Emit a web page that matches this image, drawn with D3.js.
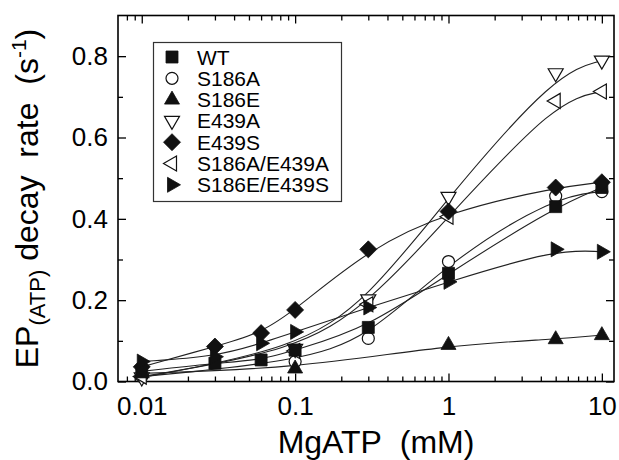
<!DOCTYPE html>
<html>
<head>
<meta charset="utf-8">
<script src="https://cdn.jsdelivr.net/npm/d3@7"></script>
<style>
  body { margin: 0; background: #fff; }
  text { font-family: "Liberation Sans", Arial, sans-serif; fill: #000; }
</style>
</head>
<body>
<div id="chart"></div>
<script>
// ---- data ----
const wtX    = [0.01, 0.03, 0.06, 0.1, 0.3, 1, 5, 10];
const wtY    = [0.025, 0.045, 0.053, 0.077, 0.133, 0.266, 0.430, 0.477];
const s186aX = [0.01, 0.1, 0.3, 1, 5, 10];
const s186aY = [0.012, 0.049, 0.106, 0.295, 0.456, 0.467];
const s186eX = [0.01, 0.1, 1, 5, 10];
const s186eY = [0.020, 0.032, 0.090, 0.104, 0.114];
const e439aX = [0.01, 0.1, 0.3, 1, 5, 10];
const e439aY = [0.010, 0.080, 0.202, 0.454, 0.758, 0.789];
const e439sX = [0.01, 0.03, 0.06, 0.1, 0.3, 1, 5, 10];
const e439sY = [0.036, 0.086, 0.119, 0.176, 0.325, 0.418, 0.477, 0.490];
const dblAX  = [0.01, 0.1, 0.3, 1, 5, 10];
const dblAY  = [0.012, 0.075, 0.190, 0.405, 0.690, 0.713];
const dblEX  = [0.01, 0.03, 0.06, 0.1, 0.3, 1, 5, 10];
const dblEY  = [0.049, 0.061, 0.094, 0.122, 0.182, 0.245, 0.325, 0.319];

const seriesNames = ["WT", "S186A", "S186E", "E439A", "E439S", "S186A/E439A", "S186E/E439S"];
const markers     = ["square", "circle", "up", "down", "diamond", "left", "right"];

const xMajor  = [0.01, 0.1, 1, 10];
const xLabels = ["0.01", "0.1", "1", "10"];
const xMinor  = [0.008, 0.009, 0.02, 0.03, 0.04, 0.05, 0.06, 0.07, 0.08, 0.09,
                 0.2, 0.3, 0.4, 0.5, 0.6, 0.7, 0.8, 0.9, 2, 3, 4, 5, 6, 7, 8, 9];
const yMajor  = [0, 0.2, 0.4, 0.6, 0.8];
const yLabels = ["0.0", "0.2", "0.4", "0.6", "0.8"];
const yMinor  = [0.1, 0.3, 0.5, 0.7];

const series = [
  [wtX, wtY], [s186aX, s186aY], [s186eX, s186eY], [e439aX, e439aY],
  [e439sX, e439sY], [dblAX, dblAY], [dblEX, dblEY]
].map(([xs, ys], i) => ({
  name: seriesNames[i],
  marker: markers[i],
  points: xs.map((v, j) => ({ x: v, y: ys[j] }))
}));

// ---- layout ----
const margin = { top: 15.5, right: 5, bottom: 78.5, left: 118 };
const W = 619, H = 460;
const width  = W - margin.left - margin.right;
const height = H - margin.top - margin.bottom;

const svg = d3.select("#chart").append("svg")
  .attr("width", W).attr("height", H);
const g = svg.append("g")
  .attr("transform", `translate(${margin.left},${margin.top})`);

const x = d3.scaleLog().domain([0.007, 12]).range([0, width]);
const y = d3.scaleLinear().domain([0, 0.9]).range([height, 0]);

// ---- axes (inward ticks on all four sides) ----
function styleAxis(sel, size) {
  sel.select(".domain").remove();
  sel.selectAll("line").attr("stroke", "#000").attr("stroke-width", 1.3);
  sel.selectAll("text").attr("font-size", size).attr("font-family", null);
}

g.append("g").attr("transform", `translate(0,${height})`)
  .call(d3.axisBottom(x).tickValues(xMajor)
    .tickFormat(d => xLabels[xMajor.indexOf(d)])
    .tickSize(-8).tickSizeOuter(0).tickPadding(15))
  .call(s => styleAxis(s, "26px"));
g.append("g").attr("transform", `translate(0,${height})`)
  .call(d3.axisBottom(x).tickValues(xMinor).tickFormat("").tickSize(-5).tickSizeOuter(0))
  .call(s => styleAxis(s));
g.append("g")
  .call(d3.axisTop(x).tickValues(xMajor).tickFormat("").tickSize(-8).tickSizeOuter(0))
  .call(s => styleAxis(s));
g.append("g")
  .call(d3.axisTop(x).tickValues(xMinor).tickFormat("").tickSize(-5).tickSizeOuter(0))
  .call(s => styleAxis(s));

g.append("g")
  .call(d3.axisLeft(y).tickValues(yMajor)
    .tickFormat(d => yLabels[yMajor.indexOf(d)])
    .tickSize(-8).tickSizeOuter(0).tickPadding(10))
  .call(s => styleAxis(s, "26px"));
g.append("g")
  .call(d3.axisLeft(y).tickValues(yMinor).tickFormat("").tickSize(-5).tickSizeOuter(0))
  .call(s => styleAxis(s));
g.append("g").attr("transform", `translate(${width},0)`)
  .call(d3.axisRight(y).tickValues(yMajor).tickFormat("").tickSize(-8).tickSizeOuter(0))
  .call(s => styleAxis(s));
g.append("g").attr("transform", `translate(${width},0)`)
  .call(d3.axisRight(y).tickValues(yMinor).tickFormat("").tickSize(-5).tickSizeOuter(0))
  .call(s => styleAxis(s));

// frame
g.append("rect")
  .attr("width", width).attr("height", height)
  .attr("fill", "none").attr("stroke", "#000").attr("stroke-width", 1.6);

// ---- axis titles ----
svg.append("text")
  .attr("x", 376).attr("y", 453)
  .attr("text-anchor", "middle")
  .attr("font-size", "32px")
  .text("MgATP\u00a0\u00a0(mM)");

const yt = svg.append("text")
  .attr("transform", `translate(38,${margin.top + height / 2}) rotate(-90)`)
  .attr("text-anchor", "middle")
  .attr("font-size", "32px");
yt.append("tspan").text("EP");
yt.append("tspan").attr("font-size", "22px").attr("dy", 7).text("(ATP)");
yt.append("tspan").attr("dy", -7).text("\u00a0decay\u00a0\u00a0rate\u00a0\u00a0(s");
yt.append("tspan").attr("font-size", "21px").attr("dy", -12).text("-1");
yt.append("tspan").attr("dy", 12).text(")");

// ---- marker shapes ----
function markerPath(type) {
  const tri = [[0, -8.5], [7.5, 4.5], [-7.5, 4.5]];
  const rot = { up: 0, down: 180, left: -90, right: 90 };
  if (type === "square") return "M-6,-6H6V6H-6Z";
  if (type === "diamond") return "M0,-8.5L8.5,0L0,8.5L-8.5,0Z";
  if (type === "circle") return "M6,0A6,6 0 1,1 -6,0A6,6 0 1,1 6,0Z";
  const a = rot[type] * Math.PI / 180;
  const pts = tri.map(([px, py]) => [px * Math.cos(a) - py * Math.sin(a), px * Math.sin(a) + py * Math.cos(a)]);
  return "M" + pts.map(p => p[0].toFixed(2) + "," + p[1].toFixed(2)).join("L") + "Z";
}
const openMarkers = ["circle", "down", "left"];
function drawMarker(sel, type) {
  const open = openMarkers.includes(type);
  sel.append("path")
    .attr("d", markerPath(type))
    .attr("fill", open ? "#fff" : "#111")
    .attr("stroke", "#111")
    .attr("stroke-width", open ? 1.2 : 0.8);
}

// ---- smooth fit curves ----
const line = d3.line()
  .x(d => x(d.x))
  .y(d => y(d.y))
  .curve(d3.curveBasis);

g.selectAll(".fit")
  .data(series)
  .enter().append("path")
    .attr("class", "fit")
    .attr("fill", "none")
    .attr("stroke", "#222")
    .attr("stroke-width", 1.1)
    .attr("d", d => line(d.points));

// open symbols first, filled on top
const drawOrder = series.slice().sort((a, b) =>
  (openMarkers.includes(b.marker) ? 1 : 0) - (openMarkers.includes(a.marker) ? 1 : 0));
drawOrder.forEach(s => {
  s.points.forEach(p => {
    const m = g.append("g").attr("transform", `translate(${x(p.x)},${y(p.y)})`);
    drawMarker(m, s.marker);
  });
});

// ---- legend ----
const legend = svg.append("g");
legend.append("rect")
  .attr("x", 153.5).attr("y", 42.5)
  .attr("width", 188).attr("height", 159)
  .attr("fill", "#fff").attr("stroke", "#333").attr("stroke-width", 1.2);
series.forEach((s, i) => {
  const row = legend.append("g").attr("transform", `translate(0,${57 + i * 21.3})`);
  drawMarker(row.append("g").attr("transform", "translate(172,0)"), s.marker);
  row.append("text")
    .attr("x", 197).attr("y", 0).attr("dy", "0.36em")
    .attr("font-size", "21px")
    .text(s.name);
});
</script>
</body>
</html>
